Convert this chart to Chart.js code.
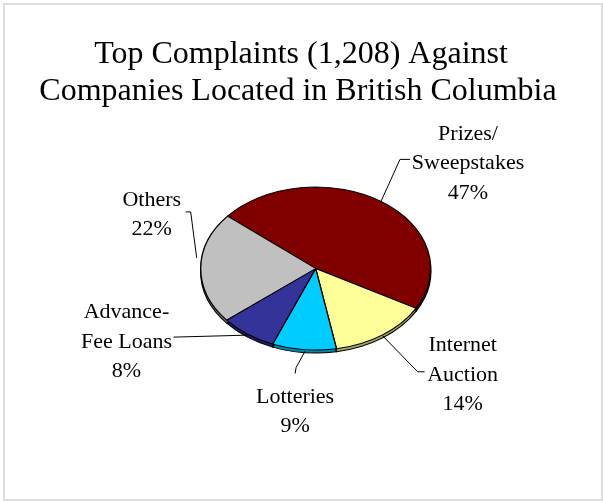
<!DOCTYPE html>
<html>
<head>
<meta charset="utf-8">
<script src="https://cdn.jsdelivr.net/npm/chart.js@4"></script>
<style>
  body { margin: 0; background: #fff; }
  canvas { display: block; }
</style>
</head>
<body>
<canvas id="complaints" width="603" height="502"></canvas>
<script>
const categories = ['Prizes/\nSweepstakes', 'Internet\nAuction', 'Lotteries', 'Advance-\nFee Loans', 'Others'];
const shares = [47, 14, 9, 8, 22];
const titleLines = ['Top Complaints (1,208) Against', 'Companies Located in British Columbia'];

const sliceColors = ['#800000', '#ffff99', '#00ccff', '#333399', '#c0c0c0'];
const sideColors = ['#4a0000', '#a3a35c', '#0086a8', '#1e1e5e', '#7a7a7a'];

// label centre relative to the rim point at the slice's middle angle,
// plus the elbowed leader line from that rim point
const labelPlacement = [
  { dx: 87, dy: -38, leader: [[0, 0], [19, -42], [29, -42]] },
  { dx: 80, dy: 40, leader: [[0, 1], [35, 37], [42, 37]] },
  { dx: -9, dy: 62, leader: [[1, 1.5], [-8, 18], [-9, 24]] },
  { dx: -121, dy: 8, leader: [[0, 1], [-74, 3]] },
  { dx: -49, dy: -53, leader: [[-4, -10], [-10, -56], [-15, -56]] }
];

const TILT = 0.709;   // vertical squash of the pie
const DEPTH = 3;      // visible thickness of the pie's rim
const SERIF = "'Liberation Serif', 'Times New Roman', serif";

const tiltedPie = {
  id: 'tiltedPie',
  beforeDatasetsDraw(chart) {
    const ctx = chart.ctx;
    const arcs = chart.getDatasetMeta(0).data;
    const { x, y } = arcs[0];
    ctx.save();
    ctx.translate(x, y);
    ctx.scale(1, TILT);
    ctx.translate(-x, -y);
    // rim: the same slices pushed down a little, in darker tones
    ctx.save();
    ctx.translate(0, DEPTH / TILT);
    arcs.forEach((arc, i) => {
      const p = arc.getProps(['x', 'y', 'startAngle', 'endAngle', 'outerRadius']);
      ctx.beginPath();
      ctx.moveTo(p.x, p.y);
      ctx.arc(p.x, p.y, p.outerRadius, p.startAngle, p.endAngle);
      ctx.closePath();
      ctx.fillStyle = sideColors[i];
      ctx.fill();
      ctx.lineWidth = 1.3;
      ctx.strokeStyle = '#000';
      ctx.stroke();
    });
    ctx.restore();
  },
  afterDatasetsDraw(chart) {
    chart.ctx.restore();
  }
};

const decorations = {
  id: 'decorations',
  beforeDraw(chart) {
    const ctx = chart.ctx;
    ctx.save();
    ctx.fillStyle = '#fff';
    ctx.fillRect(0, 0, chart.width, chart.height);
    ctx.restore();
  },
  afterDraw(chart) {
    const ctx = chart.ctx;
    ctx.save();

    // outer frame
    ctx.strokeStyle = '#dcdcdc';
    ctx.lineWidth = 2;
    ctx.strokeRect(4, 4, 598, 496);

    // title
    ctx.fillStyle = '#000';
    ctx.font = '32px ' + SERIF;
    ctx.textAlign = 'center';
    ctx.textBaseline = 'alphabetic';
    ctx.fillText(titleLines[0], 301, 62.5);
    ctx.fillText(titleLines[1], 298, 99.5);

    // slice labels with leader lines
    ctx.font = '22px ' + SERIF;
    ctx.textBaseline = 'middle';
    ctx.strokeStyle = '#000';
    ctx.lineWidth = 1;
    chart.getDatasetMeta(0).data.forEach((arc, i) => {
      const p = arc.getProps(['x', 'y', 'startAngle', 'endAngle', 'outerRadius']);
      const mid = (p.startAngle + p.endAngle) / 2;
      const ex = p.x + p.outerRadius * Math.cos(mid);
      const ey = p.y + p.outerRadius * Math.sin(mid) * TILT;
      const place = labelPlacement[i];

      ctx.beginPath();
      place.leader.forEach(([lx, ly], k) => {
        if (k === 0) ctx.moveTo(ex + lx, ey + ly);
        else ctx.lineTo(ex + lx, ey + ly);
      });
      ctx.stroke();

      const lines = categories[i].split('\n').concat(shares[i] + '%');
      const lineH = 29.5;
      const top = ey + place.dy - (lines.length - 1) * lineH / 2;
      lines.forEach((t, k) => ctx.fillText(t, ex + place.dx, top + k * lineH));
    });
    ctx.restore();
  }
};

new Chart(document.getElementById('complaints'), {
  type: 'pie',
  data: {
    labels: categories,
    datasets: [{
      data: shares,
      backgroundColor: sliceColors,
      borderColor: '#000',
      borderWidth: 1.3
    }]
  },
  options: {
    responsive: false,
    animation: false,
    radius: 115,
    rotation: -50,
    layout: {
      padding: { top: 100, bottom: 65, left: 100, right: 71.6 }
    },
    plugins: {
      legend: { display: false },
      title: { display: false },
      tooltip: { enabled: false }
    }
  },
  plugins: [tiltedPie, decorations]
});
</script>
</body>
</html>
